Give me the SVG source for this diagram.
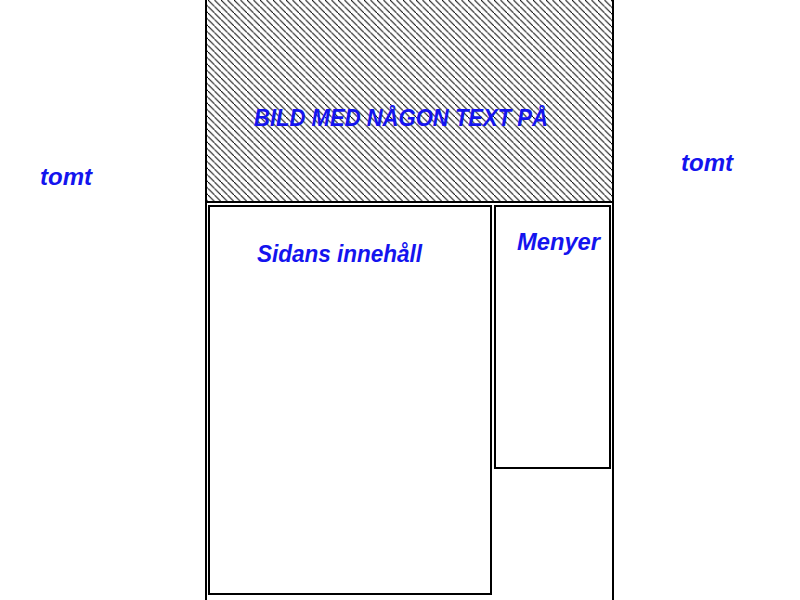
<svg xmlns="http://www.w3.org/2000/svg" width="800" height="600" viewBox="0 0 800 600">
<style>
.box{fill:none;stroke:#000;stroke-width:2}
.lbl{font-family:"Liberation Sans",Arial,sans-serif;font-weight:bold;font-style:italic;font-size:24px;fill:#1414ee}
</style>
<defs>
<pattern id="hatch" patternUnits="userSpaceOnUse" width="6.5" height="6.5">
<path d="M-1,-1 L7.5,7.5" stroke="#000" stroke-width="1"/>
</pattern>
</defs>
<rect width="800" height="600" fill="#fff"/>
<g id="page">
<rect x="207" y="0" width="405" height="201" fill="url(#hatch)"/>
<line class="box" x1="206" y1="0" x2="206" y2="600"/>
<line class="box" x1="613" y1="0" x2="613" y2="600"/>
<line class="box" x1="206" y1="202" x2="613" y2="202"/>
</g>
<g id="header">
<text class="lbl" x="254" y="126" textLength="294" lengthAdjust="spacingAndGlyphs">BILD MED NÅGON TEXT PÅ</text>
</g>
<g id="content">
<rect class="box" x="209" y="206" width="282" height="388"/>
<text class="lbl" x="257" y="262" textLength="165" lengthAdjust="spacingAndGlyphs">Sidans innehåll</text>
</g>
<g id="menyer">
<rect class="box" x="495" y="206" width="115" height="262"/>
<text class="lbl" x="517" y="250" textLength="83" lengthAdjust="spacingAndGlyphs">Menyer</text>
</g>
<g id="tomt-left">
<text class="lbl" x="40" y="185" textLength="52" lengthAdjust="spacingAndGlyphs">tomt</text>
</g>
<g id="tomt-right">
<text class="lbl" x="681" y="171" textLength="52" lengthAdjust="spacingAndGlyphs">tomt</text>
</g>
<g id="connectors"></g>
</svg>
